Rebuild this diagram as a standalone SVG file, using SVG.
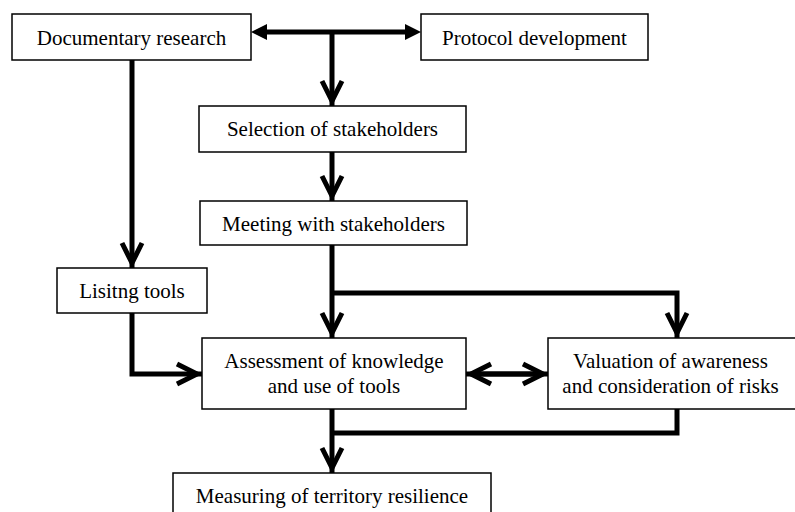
<svg xmlns="http://www.w3.org/2000/svg" width="795" height="512" viewBox="0 0 795 512">
<defs>
<style>
.box{fill:#fff;stroke:#000;stroke-width:1.5}
.t{font-family:"Liberation Serif","Times New Roman",serif;font-size:21px;fill:#000;text-anchor:middle}
.c{fill:none;stroke:#000;stroke-width:5;stroke-linejoin:miter}
</style>
<marker id="chev" markerUnits="userSpaceOnUse" viewBox="-30 -15 40 30" markerWidth="40" markerHeight="30" refX="5" refY="0" orient="auto" overflow="visible">
<path d="M-20,-10 L0,0 L-20,10" fill="none" stroke="#000" stroke-width="5"/>
</marker>
<marker id="tri" markerUnits="userSpaceOnUse" viewBox="-20 -10 24 20" markerWidth="24" markerHeight="20" refX="-14" refY="0" orient="auto-start-reverse" overflow="visible">
<path d="M-16,-8 L0,0 L-16,8 Z" fill="#000"/>
</marker>
</defs>
<rect width="795" height="512" fill="#fff"/>
<g id="connectors">
<path class="c" d="M265,32 H407" marker-start="url(#tri)" marker-end="url(#tri)"/>
<path class="c" d="M332,32 V106" marker-end="url(#chev)"/>
<path class="c" d="M332,152 V201" marker-end="url(#chev)"/>
<path class="c" d="M132,60 V268" marker-end="url(#chev)"/>
<path class="c" d="M132,313 V374 H202" marker-end="url(#chev)"/>
<path class="c" d="M332,245 V338" marker-end="url(#chev)"/>
<path class="c" d="M332,293 H677 V338" marker-end="url(#chev)"/>
<path class="c" d="M480,374 H548" marker-end="url(#chev)"/>
<path class="c" d="M540,374 H466" marker-end="url(#chev)"/>
<path class="c" d="M332,409 V473" marker-end="url(#chev)"/>
<path class="c" d="M332,433 H677 V409"/>
</g>
<g id="n-documentary">
<rect class="box" x="12" y="14" width="239" height="46"/>
<text class="t" x="131.5" y="45">Documentary research</text>
</g>
<g id="n-protocol">
<rect class="box" x="421" y="14" width="227" height="46"/>
<text class="t" x="534.5" y="45">Protocol development</text>
</g>
<g id="n-selection">
<rect class="box" x="199" y="106" width="267" height="46"/>
<text class="t" x="332.5" y="136">Selection of stakeholders</text>
</g>
<g id="n-meeting">
<rect class="box" x="200" y="201" width="267" height="44"/>
<text class="t" x="333.5" y="231">Meeting with stakeholders</text>
</g>
<g id="n-listing">
<rect class="box" x="57" y="268" width="150" height="45"/>
<text class="t" x="132" y="298">Lisitng tools</text>
</g>
<g id="n-assessment">
<rect class="box" x="202" y="338" width="264" height="71"/>
<text class="t" x="334" y="368">Assessment of knowledge</text>
<text class="t" x="334" y="393">and use of tools</text>
</g>
<g id="n-valuation">
<rect class="box" x="548" y="338" width="250" height="71"/>
<text class="t" x="670.5" y="368">Valuation of awareness</text>
<text class="t" x="670.5" y="393">and consideration of risks</text>
</g>
<g id="n-measuring">
<rect class="box" x="173" y="473" width="318" height="45"/>
<text class="t" x="332" y="503">Measuring of territory resilience</text>
</g>
</svg>
